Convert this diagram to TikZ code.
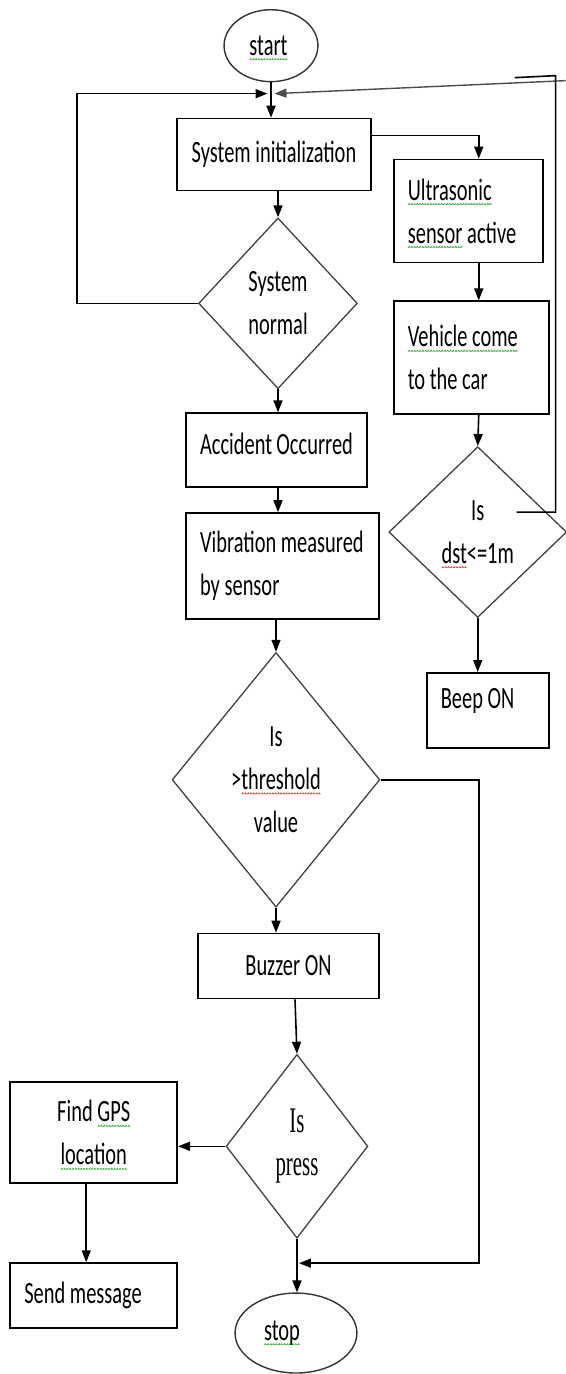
\documentclass[tikz,border=0pt]{standalone}
\usepackage{fontspec}
\usetikzlibrary{shapes.geometric,arrows.meta,calc}
\newfontfamily\calfont[FakeStretch=0.66]{Carlito}
\newfontfamily\serfont[FakeStretch=0.58]{Liberation Serif}
\definecolor{spg}{HTML}{3AA53A}
\definecolor{spr}{HTML}{E23B3B}
\newsavebox\gwavebox
\newsavebox\rwavebox
\newcommand\mkwave[2]{\sbox#1{\begin{pgfpicture}\pgfsetcolor{#2}\pgfsetlinewidth{0.7pt}\pgfpathmoveto{\pgfpoint{0pt}{0pt}}\pgfpathlineto{\pgfpoint{1pt}{1.4pt}}\pgfpathlineto{\pgfpoint{2pt}{0pt}}\pgfusepath{stroke}\end{pgfpicture}}}
\newcommand\gwv[1]{\leavevmode\setbox0\hbox{#1}\rlap{\raisebox{-5pt}[0pt][0pt]{\hbox to\wd0{\xleaders\copy\gwavebox\hfil}}}\box0}
\newcommand\rwv[1]{\leavevmode\setbox0\hbox{#1}\rlap{\raisebox{-5pt}[0pt][0pt]{\hbox to\wd0{\xleaders\copy\rwavebox\hfil}}}\box0}
\tikzset{
  every node/.style={font=\calfont\fontsize{31}{43}\selectfont},
  box/.style={draw, line width=1.8pt, rectangle, inner sep=0pt, align=center},
  lbox/.style={draw, line width=1.8pt, rectangle, inner xsep=14pt, inner ysep=0pt, align=flush left,
    execute at begin node={\hyphenpenalty=10000\exhyphenpenalty=10000}},
  dec/.style={draw=black!75, line width=1.3pt, diamond, inner sep=0pt, align=center},
  term/.style={draw=black!80, line width=1.4pt, ellipse, inner sep=0pt},
  arr/.style={line width=1.6pt, -{Triangle[length=12pt,width=9pt]}},
  ln/.style={line width=1.6pt},
  thin/.style={line width=1.4pt, draw=black!70},
}
\begin{document}
\begin{tikzpicture}[x=1pt,y=-1pt]
\mkwave{\gwavebox}{spg}\mkwave{\rwavebox}{spr}
\useasboundingbox (0,0) rectangle (566,1374);
% nodes
\node[term, minimum width=94pt, minimum height=72pt] (start) at (271,44) {\gwv{start}\hspace*{5pt}};
\node[box, minimum width=194pt, minimum height=72pt] (init) at (274,153) {System~initialization};
\node[lbox, text width=121pt, minimum height=103pt] (ultra) at (468.5,209.5) {\gwv{Ultrasonic}\\\gwv{sensor}~active};
\node[lbox, text width=127pt, minimum height=113pt] (veh) at (471.5,356.5) {\gwv{Vehicle~come}\\to~the~car};
\node[dec, minimum width=178pt, minimum height=171pt, shape aspect=1.04] (dst) at (478,531) {Is\\\rwv{dst}<=1m};
\node[lbox, text width=94pt, minimum height=75pt, text depth=24pt] (beep) at (488,709.5) {Beep~ON};
\node[dec, minimum width=159pt, minimum height=171pt, shape aspect=0.93] (norm) at (278,302) {System\\normal};
\node[lbox, text width=153pt, minimum height=74pt, text depth=12pt] (acc) at (276.5,449) {Accident~Occurred};
\node[lbox, text width=165pt, minimum height=106pt] (vib) at (282.5,565) {Vibration~measured\\by~sensor};
\node[dec, minimum width=208pt, minimum height=255pt, shape aspect=0.816] (thr) at (276,779) {Is\\>\rwv{threshold}\\value};
\node[box, minimum width=181pt, minimum height=65pt] (buz) at (288.5,965.5) {Buzzer~ON};
\node[dec, minimum width=142pt, minimum height=184pt, shape aspect=0.77, font=\serfont\fontsize{36}{43}\selectfont] (press) at (297,1146) {Is\\press};
\node[box, minimum width=167pt, minimum height=101pt] (gps) at (93.5,1132.5) {Find~\gwv{GPS}\\\gwv{location}};
\node[lbox, text width=139pt, minimum height=65pt] (send) at (93.5,1295.5) {Send~message};
\node[term, minimum width=122pt, minimum height=80pt] (stop) at (296,1333) {\gwv{stop}\hspace*{28pt}};
% helper coordinates
\coordinate (m) at (271,92);
\coordinate (rc) at (479,0);
\coordinate (lc) at (86,0);
\coordinate (lx) at (77,0);
\coordinate (rt) at (566,79);
\coordinate (j) at (297,1263);
\coordinate (dx) at (556,0);
\coordinate (d1) at (517,511);
\coordinate (dtop) at (556,74);
\coordinate (d2) at (515,76);
% connectors
\draw[ln] (start) -- (m);
\draw[arr] (m) -- (init.north -| m);
\draw[arr] (norm.west) -- (norm.west -| lx) -- (lx |- m) -- ([xshift=-3.5pt]m);
\draw[arr, thin] (rt) -- ([xshift=3.5pt]m);
\draw[ln] (d1) -- (d1 -| dx) -- (dtop) -- (d2);
\draw[arr] ([yshift=19pt]init.east) -| (ultra.north -| rc);
\draw[arr] (ultra.south -| rc) -- (veh.north -| rc);
\draw[arr] (veh.south -| rc) -- (dst.north);
\draw[arr] (dst.south) -- (beep.north -| dst.south);
\draw[arr] (init.south -| norm.north) -- (norm.north);
\draw[arr] (norm.south) -- (acc.north -| norm.south);
\draw[arr] (acc.south -| norm.south) -- (vib.north -| norm.south);
\draw[arr] (vib.south -| thr.north) -- (thr.north);
\draw[arr] (thr.south) -- (buz.north -| thr.south);
\draw[arr] (thr.east) -| (rc |- j) -- ([xshift=2pt]j);
\draw[arr] ([xshift=6.5pt]buz.south) -- (press.north);
\draw[arr] (press.west) -- (press.west -| gps.east);
\draw[arr] (gps.south -| lc) -- (send.north -| lc);
\draw[arr] (press.south) -- (stop.north -| press.south);
\end{tikzpicture}
\end{document}
